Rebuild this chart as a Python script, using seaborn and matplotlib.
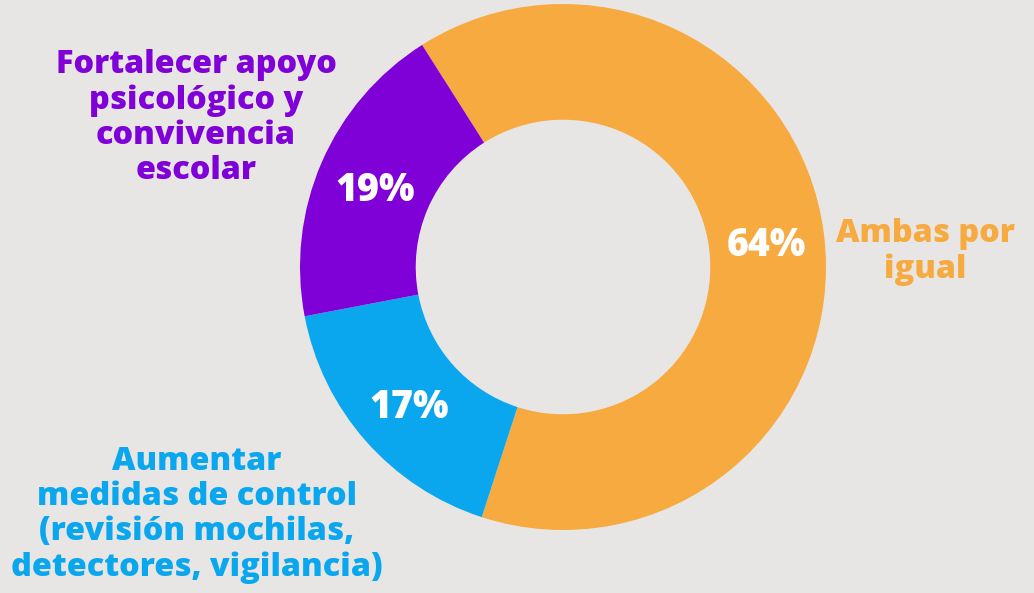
import matplotlib.pyplot as plt
import seaborn as sns

# Data
categories = ['Ambas por\nigual',
              'Aumentar\nmedidas de control\n(revisión mochilas,\ndetectores, vigilancia)',
              'Fortalecer apoyo\npsicológico y\nconvivencia\nescolar']
shares = [64, 17, 19]
colors = ['#F6AA3F', '#0AA7EE', '#8000D8']
bg = '#E8E6E4'

sns.set_theme(style='white')
plt.rcParams['font.family'] = ['Open Sans', 'DejaVu Sans']

fig = plt.figure(figsize=(10.34, 5.93), dpi=100, facecolor=bg)
ax = fig.add_axes([0, 0, 1, 1])
ax.set_facecolor(bg)
ax.axis('off')

# donut, center and radius in pixel units of the figure
wedges, texts, autotexts = ax.pie(
    shares, colors=colors, startangle=122.4, counterclock=False,
    center=(563, 326), radius=263, autopct='%d%%', pctdistance=0.78,
    wedgeprops=dict(width=263 * 0.44, edgecolor='none'),
    textprops=dict(color='white', fontsize=27, fontweight='heavy'))
for t in autotexts:
    t.set_va('center_baseline')
ax.set_xlim(0, 1034)
ax.set_ylim(0, 593)
ax.set_aspect('equal')

# outside labels
label_pos = [(925, 593 - 252), (197, 593 - 515), (196, 593 - 118)]
for txt, col, (x, y) in zip(categories, colors, label_pos):
    ax.text(x, y, txt, color=col, fontsize=23.3, fontweight='heavy',
            ha='center', va='center', linespacing=1.12)

plt.savefig('out.png', dpi=100, facecolor=bg)
